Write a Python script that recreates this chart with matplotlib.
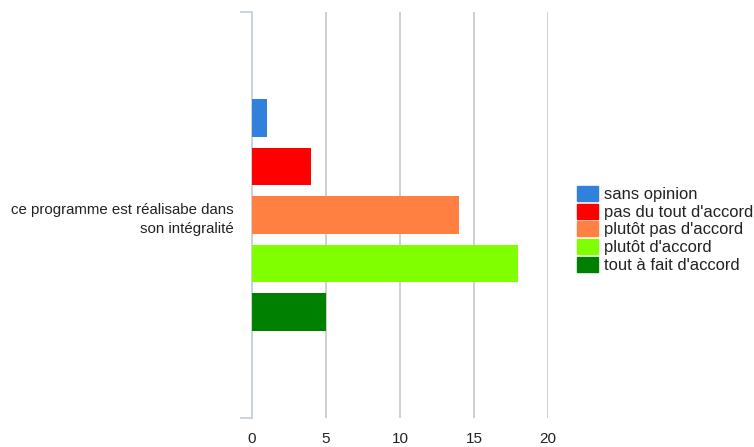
import matplotlib
matplotlib.use('Agg')
import matplotlib.pyplot as plt
import numpy as np

plt.rcParams['font.family'] = ['Liberation Sans', 'DejaVu Sans']

# Data
category = 'ce programme est réalisabe dans\nson intégralité'
series = ['sans opinion', "pas du tout d'accord", "plutôt pas d'accord",
          "plutôt d'accord", "tout à fait d'accord"]
values = [1, 4, 14, 18, 5]
colors = ['#3080dc', '#ff0000', '#ff8040', '#80ff00', '#008000']
xticks = [0, 5, 10, 15, 20]

fig = plt.figure(figsize=(7.54, 4.47), dpi=100)
ax = fig.add_axes([252 / 754, 1 - 418 / 447, 296 / 754, 406 / 447])

# one group of bars, centred on the category position
pos = np.arange(len(values))
center = pos.mean()
ax.barh(pos, values, height=0.78, color=colors, zorder=3)

half = 406 / 48.5 / 2
ax.set_ylim(center + half, center - half)
ax.set_xlim(0, 20)

ax.set_yticks([center])
ax.set_yticklabels([category], fontsize=10.8, color='#222222', linespacing=1.5)
ax.set_xticks(xticks)
ax.set_xticklabels([str(t) for t in xticks], fontsize=11, color='#222222')
ax.tick_params(axis='both', length=0)
ax.tick_params(axis='y', pad=13.5)
ax.tick_params(axis='x', pad=10)

ax.grid(axis='x', color='#cccccc', linewidth=1.3, zorder=0)
for s in ['top', 'right', 'bottom', 'left']:
    ax.spines[s].set_visible(False)

# bracket on the left side
bc = '#c8d0dc'
ax.plot([0, 0], [0, 1], transform=ax.get_xaxis_transform(), color=bc, lw=1.3, clip_on=False, zorder=2)
ax.plot([-11 / 296, 0], [1, 1], transform=ax.transAxes, color=bc, lw=1.3, clip_on=False)
ax.plot([-11 / 296, 0], [0, 0], transform=ax.transAxes, color=bc, lw=1.3, clip_on=False)

handles = [plt.Rectangle((0, 0), 1, 1, color=c) for c in colors]
fig.legend(handles, series, loc='upper left', bbox_to_anchor=(577 / 754, 1 - 186 / 447),
           frameon=False, fontsize=11.9, handlelength=1.26, handleheight=1.0,
           handletextpad=0.36, labelspacing=0.1, borderpad=0, borderaxespad=0,
           labelcolor='#222222')

fig.savefig('out.png', dpi=100)
